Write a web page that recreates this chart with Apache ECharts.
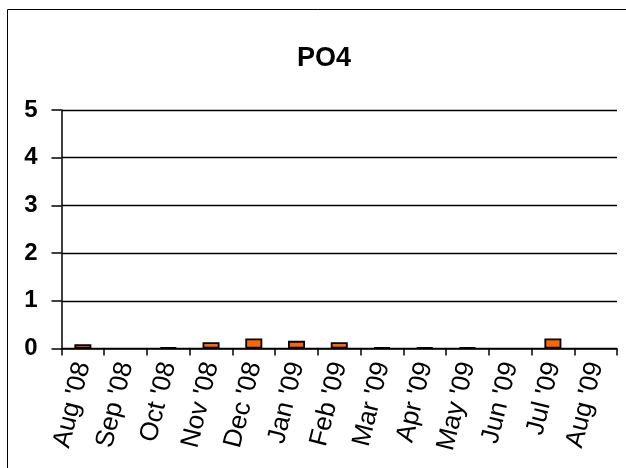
<!DOCTYPE html>
<html>
<head>
<meta charset="utf-8">
<script src="https://cdn.jsdelivr.net/npm/echarts@6/dist/echarts.min.js"></script>
<style>
html,body{margin:0;padding:0;background:#fff;}
#c{width:626px;height:468px;}
</style>
</head>
<body>
<div id="c"></div>
<script>
const categories = ["Aug '08","Sep '08","Oct '08","Nov '08","Dec '08","Jan '09","Feb '09","Mar '09","Apr '09","May '09","Jun '09","Jul '09","Aug '09"];
const po4Values = [0.09, null, 0.02, 0.13, 0.21, 0.16, 0.13, 0.02, 0.02, 0.02, null, 0.21, null];
const yTicks = [0, 1, 2, 3, 4, 5];

const chart = echarts.init(document.getElementById('c'), null, {renderer: 'canvas'});
const fontFam = '"Liberation Sans", Arial, sans-serif';
chart.setOption({
  animation: false,
  backgroundColor: '#fff',
  title: {
    text: 'PO4',
    left: 292,
    top: 40,
    textStyle: {fontFamily: fontFam, fontSize: 27, fontWeight: 'bold', color: '#000'}
  },
  graphic: [{
    type: 'rect',
    shape: {x: 7.5, y: 9.5, width: 640, height: 480},
    style: {fill: null, stroke: '#000', lineWidth: 1},
    silent: true
  }],
  grid: {left: 61.5, right: 9, top: 110, bottom: 119.5, containLabel: false},
  xAxis: {
    type: 'category',
    data: categories,
    boundaryGap: true,
    axisLine: {lineStyle: {color: '#000', width: 1.5}},
    axisTick: {show: true, length: 7, lineStyle: {color: '#000', width: 1.5}},
    axisLabel: {rotate: 76, margin: 14, interval: 0, fontFamily: fontFam, fontSize: 26, color: '#000'}
  },
  yAxis: {
    type: 'value',
    min: yTicks[0],
    max: yTicks[yTicks.length - 1],
    interval: 1,
    axisLine: {show: true, lineStyle: {color: '#000', width: 1.5}},
    axisTick: {show: true, length: 10, lineStyle: {color: '#000', width: 1.5}},
    axisLabel: {margin: 24, fontFamily: fontFam, fontSize: 24, fontWeight: 'bold', color: '#000'},
    splitLine: {show: true, lineStyle: {color: '#000', width: 1.3}}
  },
  series: [{
    type: 'bar',
    data: po4Values,
    barWidth: 17,
    itemStyle: {color: '#FF6600', borderColor: '#000', borderWidth: 1.8}
  }]
});
</script>
</body>
</html>
